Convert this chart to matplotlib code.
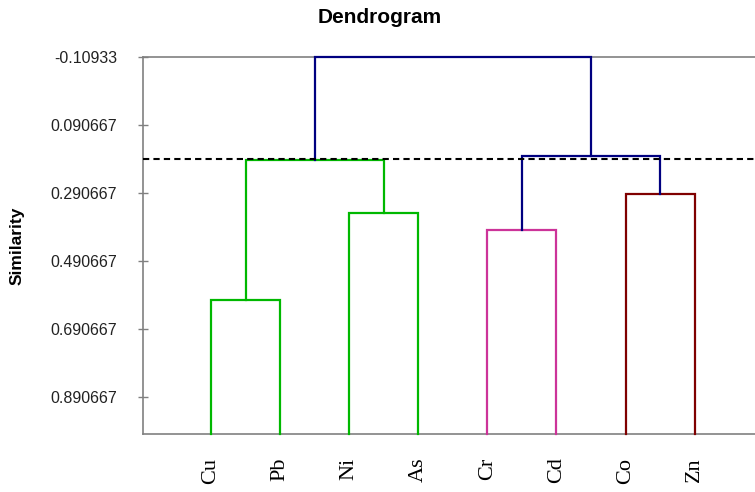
import matplotlib
matplotlib.use("Agg")
import matplotlib.pyplot as plt

# leaves in plotted order
leaves = ["Cu", "Pb", "Ni", "As", "Cr", "Cd", "Co", "Zn"]

# merges: (left child, right child, similarity, colour)
# children are leaf names or indices into this list
merges = [
    ("Cu", "Pb", 0.607, "#00b800"),
    ("Ni", "As", 0.351, "#00b800"),
    ("Cr", "Cd", 0.400, "#cc3399"),
    ("Co", "Zn", 0.295, "#7f0000"),
    (0, 1, 0.1945, "#00b800"),
    (2, 3, 0.183, "#000080"),
    (4, 5, -0.10933, "#000080"),
]

cut_level = 0.1907
leaf_base = 1.0

ytick_vals = [-0.10933, 0.090667, 0.290667, 0.490667, 0.690667, 0.890667]
ytick_labels = ["-0.10933", "0.090667", "0.290667", "0.490667", "0.690667", "0.890667"]

fig = plt.figure(figsize=(7.55, 4.92), dpi=100)
ax = fig.add_axes([143 / 755, 58 / 492, 612 / 755, 377.3 / 492])

# position/height of every node
nodes = {name: (i + 1, leaf_base) for i, name in enumerate(leaves)}
for k, (a, b, h, col) in enumerate(merges):
    xa, ya = nodes[a]
    xb, yb = nodes[b]
    ax.plot([xa, xa, xb, xb], [ya, h, h, yb], color=col, lw=1.6,
            zorder=3, clip_on=False, solid_joinstyle="miter")
    nodes[k] = ((xa + xb) / 2, h)

ax.axhline(cut_level, color="black", lw=1.5, ls=(0, (3, 2)), zorder=4)

ax.set_xlim(0.014, 8.874)
ax.set_ylim(leaf_base, ytick_vals[0])

ax.set_xticks(range(1, len(leaves) + 1))
ax.set_xticklabels(leaves, rotation=90, family="Liberation Serif",
                   fontsize=16, va="top")
ax.tick_params(axis="x", length=0, pad=17)

ax.set_yticks(ytick_vals)
ax.set_yticklabels(ytick_labels, family="Liberation Sans", fontsize=11.5,
                   color="#222222")
ax.tick_params(axis="y", direction="inout", length=7, width=1,
               color="#808080", pad=15)

for side in ["left", "top", "bottom"]:
    ax.spines[side].set_color("#808080")
    ax.spines[side].set_linewidth(1.2)
ax.spines["right"].set_visible(False)

ax.set_ylabel("Similarity", family="Liberation Sans", fontweight="bold",
              fontsize=12.5)
ax.yaxis.set_label_coords(-0.193, 0.5)

fig.text(380 / 755, 1 - 23 / 492, "Dendrogram", family="Liberation Sans",
         fontweight="bold", fontsize=15, ha="center", va="baseline")

fig.savefig("out.png", dpi=100)
